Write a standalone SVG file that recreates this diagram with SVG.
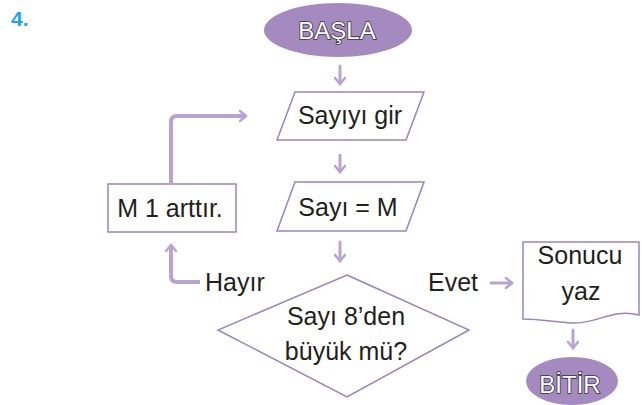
<svg xmlns="http://www.w3.org/2000/svg" width="642" height="405" viewBox="0 0 642 405">
  <style>
    .shape { fill: #ffffff; stroke: #9b82c4; stroke-width: 1.5; }
    .term { fill: #a48abe; stroke: none; }
    .txt { font-family: "Liberation Sans", Arial, sans-serif; font-size: 25px; fill: #231f20; }
    .mid { text-anchor: middle; }
    .termtxt { font-family: "Liberation Sans", Arial, sans-serif; font-size: 24px; fill: #ffffff; stroke: #3a3040; stroke-width: 1.6; paint-order: stroke; text-anchor: middle; }
    .conn { fill: none; stroke: #b9a3d2; stroke-width: 3; stroke-linecap: round; stroke-linejoin: round; }
    .loop { fill: none; stroke: #b9a3d2; stroke-width: 4; stroke-linejoin: round; }
    .num { font-family: "Liberation Sans", Arial, sans-serif; font-size: 21px; font-weight: bold; fill: #1ba6e6; }
  </style>
  <defs>
    <marker id="chev" markerUnits="userSpaceOnUse" viewBox="0 0 10 12" refX="8" refY="6" markerWidth="10" markerHeight="12" orient="auto">
      <path d="M2,1 L8,6 L2,11" fill="none" stroke="#b9a3d2" stroke-width="2.6" stroke-linecap="round" stroke-linejoin="round"/>
    </marker>
  </defs>

  <text class="num" x="11" y="26">4.</text>

  <g id="start">
    <ellipse class="term" cx="338" cy="30" rx="74" ry="27"/>
    <text class="termtxt" x="337" y="39">BAŞLA</text>
  </g>

  <g id="input">
    <polygon class="shape" points="295,92 424,92 406,140 277,140"/>
    <text class="txt mid" x="350" y="124">Sayıyı gir</text>
  </g>

  <g id="assign">
    <polygon class="shape" points="295,182 424,182 406,231 277,231"/>
    <text class="txt mid" x="348" y="216">Sayı = M</text>
  </g>

  <g id="increment">
    <rect class="shape" x="108" y="184" width="128" height="48"/>
    <text class="txt mid" x="170" y="217">M 1 arttır.</text>
  </g>

  <g id="decision">
    <polygon class="shape" points="347,275 469,330 347,397 218,330"/>
    <text class="txt mid" x="346" y="325">Sayı 8’den</text>
    <text class="txt mid" x="346" y="360">büyük mü?</text>
  </g>

  <g id="output">
    <path class="shape" d="M523,242 H639 V315 C612,308 596,325 570,323 C550,321 536,319 523,319 Z"/>
    <text class="txt mid" x="580" y="264">Sonucu</text>
    <text class="txt mid" x="581" y="300">yaz</text>
  </g>

  <g id="end">
    <ellipse class="term" cx="572" cy="381" rx="46" ry="24"/>
    <text class="termtxt" x="570" y="393">BİTİR</text>
  </g>

  <g id="connectors">
    <path class="conn" d="M340,66 V84" marker-end="url(#chev)"/>
    <path class="conn" d="M340,155 V172" marker-end="url(#chev)"/>
    <path class="conn" d="M340,242 V261" marker-end="url(#chev)"/>
    <path class="conn" d="M491,283 H512" marker-end="url(#chev)"/>
    <path class="conn" d="M573,330 V348" marker-end="url(#chev)"/>
    <path class="loop" d="M171,184 V122 Q171,116 177,116 H246" marker-end="url(#chev)"/>
    <path class="loop" d="M200,282 H177 Q171,282 171,276 V245" marker-end="url(#chev)"/>
    <text class="txt" x="205" y="291">Hayır</text>
    <text class="txt" x="428" y="291">Evet</text>
  </g>
</svg>
